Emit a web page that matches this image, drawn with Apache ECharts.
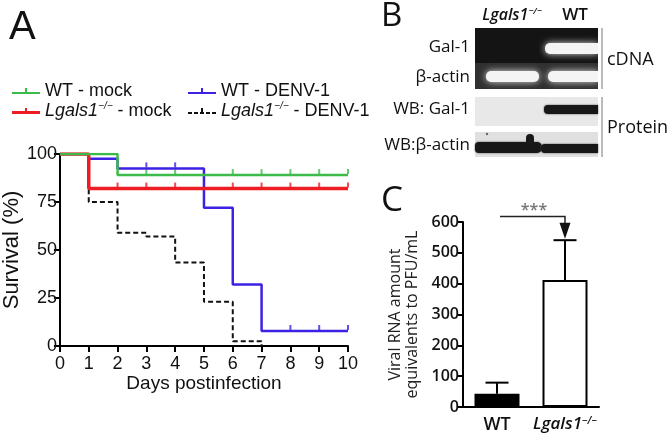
<!DOCTYPE html>
<html>
<head>
<meta charset="utf-8">
<script src="https://cdn.jsdelivr.net/npm/echarts@6/dist/echarts.min.js"></script>
<style>
  html, body { margin: 0; padding: 0; background: #fff; }
  #main { width: 672px; height: 440px; }
</style>
</head>
<body>
<div id="main"></div>
<script>
// panel A: Kaplan-Meier survival (days, % survival)
const days = [0, 1, 2, 3, 4, 5, 6, 7, 8, 9, 10]
const survivalTicks = [0, 25, 50, 75, 100]
const wtMock = [[0, 100], [2, 89], [10, 89]]
const koMock = [[0, 100], [1, 82], [10, 82]]
const wtDenv = [[0, 100], [1, 97.5], [2, 92.5], [5, 72], [6, 32], [7, 7.8], [10, 7.8]]
const koDenv = [[0, 100], [1, 75], [2, 59], [3, 57], [4, 43.5], [5, 23], [6, 2.5], [7, 0]]
// censored points
const wtMockCens = [[3, 89], [4, 89], [5, 89], [6, 89], [7, 89], [8, 89], [9, 89], [10, 89]]
const koMockCens = [[2, 82], [3, 82], [4, 82], [5, 82], [6, 82], [7, 82], [8, 82], [9, 82], [10, 82]]
const wtDenvCens = [[3, 92.5], [4, 92.5], [8, 7.8], [9, 7.8], [10, 7.8]]

// panel C: viral RNA (mean, sd)
const groups = ['WT', 'Lgals1-/-']
const rnaMean = [43, 412]
const rnaErr = [36, 129]
const sigBracket = [[0, 1, 618, 546]]

const colors = { wtMock: '#3dbb4a', koMock: '#ee1d23', wtDenv: '#3b22e4', koDenv: '#111111' }
const sans = '"Liberation Sans", Arial, sans-serif'
const myriad = '"Open Sans", "Noto Sans", sans-serif'

const names = ['WT - mock', 'Lgals1 - mock', 'WT - DENV-1', 'Lgals1 - DENV-1']
const legendRich = {
  i: { fontStyle: 'italic', fontFamily: sans, fontSize: 18, color: '#111' },
  s: { fontStyle: 'italic', fontFamily: sans, fontSize: 10, color: '#111', verticalAlign: 'top', lineHeight: 10 },
  n: { fontFamily: sans, fontSize: 18, color: '#111' }
}
function legendFmt(name) {
  if (name.indexOf('Lgals1') === 0) return '{i|Lgals1}{s|−/−}{n|' + name.slice(6) + '}'
  return '{n|' + name + '}'
}
const tickIcon = 'path://M0,6h28v2h-28z M13,2h2v4h-2z'
const thickIcon = 'path://M0,5h28v3h-28z M13,2h2v3h-2z'
const dashIcon = 'path://M0,6h4v2h-4z M6,6h4v2h-4z M12,6h4v2h-4z M13,2h2v4h-2z M18,6h4v2h-4z M24,6h4v2h-4z'

function lineSeries(name, data, color, width, type) {
  return {
    name: name, type: 'line', step: 'end', data: data, symbol: 'none',
    xAxisIndex: 0, yAxisIndex: 0, color: color,
    lineStyle: { color: color, width: width, type: type || 'solid' },
    animation: false
  }
}
function censSeries(name, data, color) {
  return {
    name: name, type: 'scatter', data: data, xAxisIndex: 0, yAxisIndex: 0,
    symbol: 'rect', symbolSize: [2, 5], symbolOffset: [0, -3.5],
    itemStyle: { color: color }, animation: false, silent: true
  }
}

const chart = echarts.init(document.getElementById('main'), null, { renderer: 'canvas' })

const glow = { fill: '#f4f4f4', shadowBlur: 7, shadowColor: 'rgba(255,255,255,0.85)' }
const dark = { fill: '#171717', shadowBlur: 2, shadowColor: '#444' }
const blot = [
  // cDNA gel
  { type: 'rect', shape: { x: 475, y: 28, width: 123, height: 35 }, style: { fill: '#141414' } },
  { type: 'rect', shape: { x: 475, y: 63, width: 123, height: 26 }, style: { fill: '#303030' } },
  { type: 'rect', shape: { x: 545, y: 43, width: 53, height: 11, r: [5, 0, 0, 5] }, style: glow },
  { type: 'rect', shape: { x: 486, y: 71, width: 53, height: 11, r: 5 }, style: glow },
  { type: 'rect', shape: { x: 548, y: 71, width: 50, height: 11, r: [5, 0, 0, 5] }, style: glow },
  // western blots
  { type: 'rect', shape: { x: 475, y: 97, width: 123, height: 29 }, style: { fill: '#e8e8e8' } },
  { type: 'rect', shape: { x: 544, y: 105, width: 54, height: 9, r: [4, 0, 0, 4] }, style: dark },
  { type: 'rect', shape: { x: 475, y: 132, width: 123, height: 25 }, style: { fill: '#e0e0e0' } },
  { type: 'rect', shape: { x: 475, y: 142, width: 67, height: 11, r: [4, 5, 5, 4] }, style: dark },
  { type: 'rect', shape: { x: 526, y: 134, width: 8, height: 14, r: 4 }, style: { fill: '#181818' } },
  { type: 'rect', shape: { x: 541, y: 144, width: 57, height: 9, r: [4, 0, 0, 4] }, style: dark },
  { type: 'circle', shape: { cx: 487, cy: 134, r: 1.2 }, style: { fill: '#666' } },
  { type: 'line', shape: { x1: 602, y1: 28, x2: 602, y2: 89 }, style: { stroke: '#777', lineWidth: 1 } },
  { type: 'line', shape: { x1: 602, y1: 97, x2: 602, y2: 157 }, style: { stroke: '#777', lineWidth: 1 } }
]
function label(text, x, y, opts) {
  return {
    type: 'text', x: x, y: y,
    style: Object.assign({ text: text, fill: '#111', font: '17px ' + myriad, align: 'left', verticalAlign: 'middle' }, opts || {})
  }
}
const blotText = [
  label('Gal-1', 470, 47, { align: 'right' }),
  label('β-actin', 470, 77, { align: 'right' }),
  label('WB: Gal-1', 470, 109, { align: 'right' }),
  label('WB:β-actin', 470, 145, { align: 'right' }),
  label('cDNA', 607, 60, { font: '18px ' + myriad }),
  label('Protein', 607, 128, { font: '18px ' + myriad }),
  {
    type: 'text', x: 512, y: 15,
    style: {
      text: '{i|Lgals1}{s|−/−}', align: 'center', verticalAlign: 'middle',
      rich: {
        i: { font: 'italic 600 16px ' + myriad, fill: '#111' },
        s: { font: 'italic 600 9px ' + myriad, fill: '#111', verticalAlign: 'top', lineHeight: 9 }
      }
    }
  },
  label('WT', 575, 15, { align: 'center', font: '600 17px ' + myriad })
]

const option = {
  backgroundColor: '#fff',
  textStyle: { fontFamily: sans },
  legend: [
    {
      left: 7, top: 76, orient: 'vertical', itemGap: 0, itemWidth: 28, itemHeight: 8,
      data: [{ name: names[0], icon: tickIcon }, { name: names[1], icon: thickIcon }],
      formatter: legendFmt, itemStyle: { borderWidth: 0 }, selectedMode: false,
      textStyle: { lineHeight: 20, rich: legendRich }
    },
    {
      left: 183, top: 76, orient: 'vertical', itemGap: 0, itemWidth: 28, itemHeight: 8,
      data: [{ name: names[2], icon: tickIcon }, { name: names[3], icon: dashIcon }],
      formatter: legendFmt, itemStyle: { borderWidth: 0 }, selectedMode: false,
      textStyle: { lineHeight: 20, rich: legendRich }
    }
  ],
  grid: [
    { left: 58, top: 154, width: 290, height: 192 },
    { left: 463, top: 222, width: 136, height: 185 }
  ],
  xAxis: [
    {
      gridIndex: 0, type: 'value', min: 0, max: 10, interval: 1,
      name: 'Days postinfection', nameLocation: 'middle', nameGap: 27,
      nameTextStyle: { fontFamily: sans, fontSize: 19, color: '#111' },
      axisLine: { lineStyle: { color: '#000', width: 2 } },
      axisTick: { length: 6, lineStyle: { color: '#000', width: 2 } },
      axisLabel: { margin: 9, fontFamily: sans, fontSize: 18, color: '#111', showMinLabel: true, showMaxLabel: true },
      splitLine: { show: false }
    },
    {
      gridIndex: 1, type: 'category', data: groups,
      axisLine: { lineStyle: { color: '#000', width: 2 } },
      axisTick: { alignWithLabel: true, length: 7, lineStyle: { color: '#000', width: 2 } },
      axisLabel: {
        interval: 0, margin: 9, fontFamily: myriad, fontSize: 18, fontWeight: 600, color: '#111',
        formatter: function (v) { return v === 'WT' ? '{b|WT}' : '{i|Lgals1}{s|−/−}' },
        rich: {
          b: { fontFamily: myriad, fontSize: 18, fontWeight: 600, color: '#111' },
          i: { fontFamily: myriad, fontSize: 17, fontWeight: 600, fontStyle: 'italic', color: '#111' },
          s: { fontFamily: myriad, fontSize: 10, fontWeight: 600, fontStyle: 'italic', color: '#111', verticalAlign: 'top', lineHeight: 10 }
        }
      }
    }
  ],
  yAxis: [
    {
      gridIndex: 0, type: 'value', min: 0, max: 100, interval: 25,
      name: 'Survival (%)', nameLocation: 'middle', nameGap: 34,
      nameTextStyle: { fontFamily: sans, fontSize: 22, color: '#111' },
      axisLine: { show: true, lineStyle: { color: '#000', width: 2 } },
      axisTick: { show: true, length: 6, lineStyle: { color: '#000', width: 2 } },
      axisLabel: { margin: 3, fontFamily: sans, fontSize: 18, color: '#111' },
      splitLine: { show: false }
    },
    {
      gridIndex: 1, type: 'value', min: 0, max: 600, interval: 100,
      name: 'Viral RNA amount\nequivalents to PFU/mL', nameLocation: 'middle', nameGap: 42,
      nameTextStyle: { fontFamily: myriad, fontSize: 16, lineHeight: 17, color: '#222' },
      axisLine: { show: true, lineStyle: { color: '#000', width: 2 } },
      axisTick: { show: true, length: 5, lineStyle: { color: '#000', width: 2 } },
      axisLabel: { margin: 4, fontFamily: myriad, fontSize: 16, fontWeight: 600, color: '#111' },
      splitLine: { show: false }
    }
  ],
  series: [
    lineSeries(names[3], koDenv, colors.koDenv, 2, [5, 3]),
    lineSeries(names[2], wtDenv, colors.wtDenv, 2.5),
    lineSeries(names[1], koMock, colors.koMock, 3.5),
    lineSeries(names[0], wtMock, colors.wtMock, 2.5),
    censSeries(names[2], wtDenvCens, colors.wtDenv),
    censSeries(names[1], koMockCens, colors.koMock),
    censSeries(names[0], wtMockCens, colors.wtMock),
    {
      type: 'bar', xAxisIndex: 1, yAxisIndex: 1, barWidth: 45, animation: false,
      data: [
        { value: rnaMean[0], itemStyle: { color: '#000', borderColor: '#000', borderWidth: 2 } },
        { value: rnaMean[1], itemStyle: { color: '#fff', borderColor: '#000', borderWidth: 2 } }
      ]
    },
    {
      type: 'custom', xAxisIndex: 1, yAxisIndex: 1, animation: false, z: 5,
      data: rnaMean.map(function (m, i) { return [i, m, rnaErr[i]] }),
      renderItem: function (params, api) {
        const base = api.coord([api.value(0), api.value(1)])
        const top = api.coord([api.value(0), api.value(1) + api.value(2)])
        const st = { stroke: '#000', lineWidth: 2 }
        return {
          type: 'group', children: [
            { type: 'line', shape: { x1: base[0], y1: base[1], x2: top[0], y2: top[1] }, style: st },
            { type: 'line', shape: { x1: top[0] - 11.5, y1: top[1], x2: top[0] + 11.5, y2: top[1] }, style: st }
          ]
        }
      }
    },
    {
      type: 'custom', xAxisIndex: 1, yAxisIndex: 1, animation: false, z: 5,
      data: sigBracket,
      renderItem: function (params, api) {
        const a = api.coord([api.value(0), api.value(2)])
        const b = api.coord([api.value(1), api.value(2)])
        const tip = api.coord([api.value(1), api.value(3)])
        return {
          type: 'group', children: [
            { type: 'polyline', shape: { points: [[a[0] + 3, a[1]], [b[0], b[1]], [b[0], tip[1] - 14]] }, style: { stroke: '#222', lineWidth: 1.5, fill: null } },
            { type: 'polygon', shape: { points: [[b[0] - 5.5, tip[1] - 16], [b[0] + 5.5, tip[1] - 16], [b[0], tip[1]]] }, style: { fill: '#111' } },
            { type: 'text', x: (a[0] + b[0]) / 2 + 3, y: a[1] - 6, style: { text: '***', font: '600 16px ' + myriad, fill: '#777', align: 'center', verticalAlign: 'middle' } }
          ]
        }
      }
    }
  ],
  graphic: [
    { type: 'text', x: 9, y: 28, style: { text: 'A', font: '40px ' + sans, fill: '#111', verticalAlign: 'middle' } },
    { type: 'text', x: 381, y: 17, style: { text: 'B', font: '33px ' + myriad, fill: '#111', verticalAlign: 'middle' } },
    { type: 'text', x: 381, y: 201, style: { text: 'C', font: '35px ' + myriad, fill: '#111', verticalAlign: 'middle' } }
  ].concat(blot, blotText)
}
chart.setOption(option)
</script>
</body>
</html>
